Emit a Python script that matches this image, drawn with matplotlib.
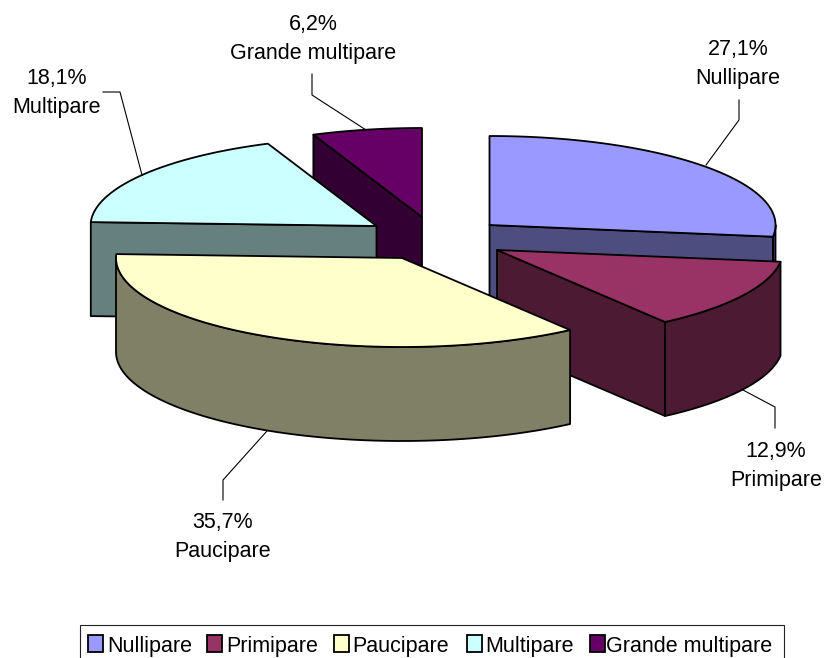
import numpy as np
import matplotlib
matplotlib.use("Agg")
import matplotlib.pyplot as plt
from matplotlib.patches import Polygon, Rectangle

plt.rcParams['font.family'] = ['Liberation Sans', 'DejaVu Sans']

names = ["Nullipare", "Primipare", "Paucipare", "Multipare", "Grande multipare"]
values = [27.1, 12.9, 35.7, 18.1, 6.2]
value_labels = ["27,1%", "12,9%", "35,7%", "18,1%", "6,2%"]
top_colors = ["#9999FF", "#993366", "#FFFFCC", "#CCFFFF", "#660066"]
side_colors = ["#4D4D80", "#4D1A33", "#808066", "#668080", "#330033"]

# exploded apex of every slice, in pixels of the picture
apex_x = [489.5, 497, 402, 376.5, 422]
apex_y = [225, 250, 258, 226, 217]
draw_order = [4, 3, 0, 1, 2]

label_x = [738, 776, 223, 57, 313]
label_y = [64, 466, 537, 93, 39]
leaders = [
    [(706, 165), (739, 120), (739, 100)],
    [(743, 390), (775, 407), (775, 428)],
    [(267, 431), (223, 480), (223, 500)],
    [(142, 175), (120, 92), (103, 92)],
    [(366, 130), (312, 95), (312, 74)],
]
legend_swatch_x = [88, 207, 334, 467, 590]
legend_text_x = [107, 226, 352, 485, 606]

RX, RY, DEPTH = 286, 89, 94
LW = 1.3
FS = 15.5


def arc(cx, cy, t0, t1):
    t = np.radians(np.linspace(t0, t1, 80))
    return np.column_stack([cx + RX * np.sin(t), cy - RY * np.cos(t)])


def wall(edge):
    # edge pushed straight down by the pie depth
    return np.vstack([edge, edge[::-1] + [0, DEPTH]])


fig = plt.figure(figsize=(8.24, 6.58), dpi=100)
ax = fig.add_axes([0, 0, 1, 1])
ax.set_xlim(0, 824)
ax.set_ylim(658, 0)
ax.axis("off")

ends = np.cumsum(values) / np.sum(values) * 360
starts = np.concatenate([[0], ends[:-1]])

for i in draw_order:
    t0, t1 = starts[i], ends[i]
    apex = np.array([[apex_x[i], apex_y[i]]])
    rim = arc(apex_x[i], apex_y[i], t0, t1)
    side = dict(fc=side_colors[i], ec="black", lw=LW, joinstyle="round")

    # only the walls that face the viewer
    if np.sin(np.radians(t0)) < -1e-6:
        ax.add_patch(Polygon(wall(np.vstack([apex, rim[:1]])), **side))
    if np.sin(np.radians(t1)) > 1e-6:
        ax.add_patch(Polygon(wall(np.vstack([apex, rim[-1:]])), **side))
    lo, hi = max(t0, 90), min(t1, 270)
    if hi > lo:
        ax.add_patch(Polygon(wall(arc(apex_x[i], apex_y[i], lo, hi)), **side))

    ax.add_patch(Polygon(np.vstack([apex, rim]), fc=top_colors[i], ec="black",
                         lw=LW, joinstyle="round"))

for i in range(len(names)):
    xs, ys = zip(*leaders[i])
    ax.plot(xs, ys, color="black", lw=0.8)
    ax.text(label_x[i], label_y[i], value_labels[i] + "\n" + names[i], ha="center",
            va="center", fontsize=FS, linespacing=1.45, color="black")

# legend box runs off the bottom edge of the picture
ax.add_patch(Rectangle((80.5, 624.5), 703.5, 40, fc="white", ec="#222222", lw=0.8))
for i in range(len(names)):
    ax.add_patch(Rectangle((legend_swatch_x[i], 635), 15, 17, fc=top_colors[i],
                           ec="black", lw=1.3))
    ax.text(legend_text_x[i], 644, names[i], ha="left", va="center_baseline", fontsize=FS)

fig.savefig("out.png", dpi=100)
